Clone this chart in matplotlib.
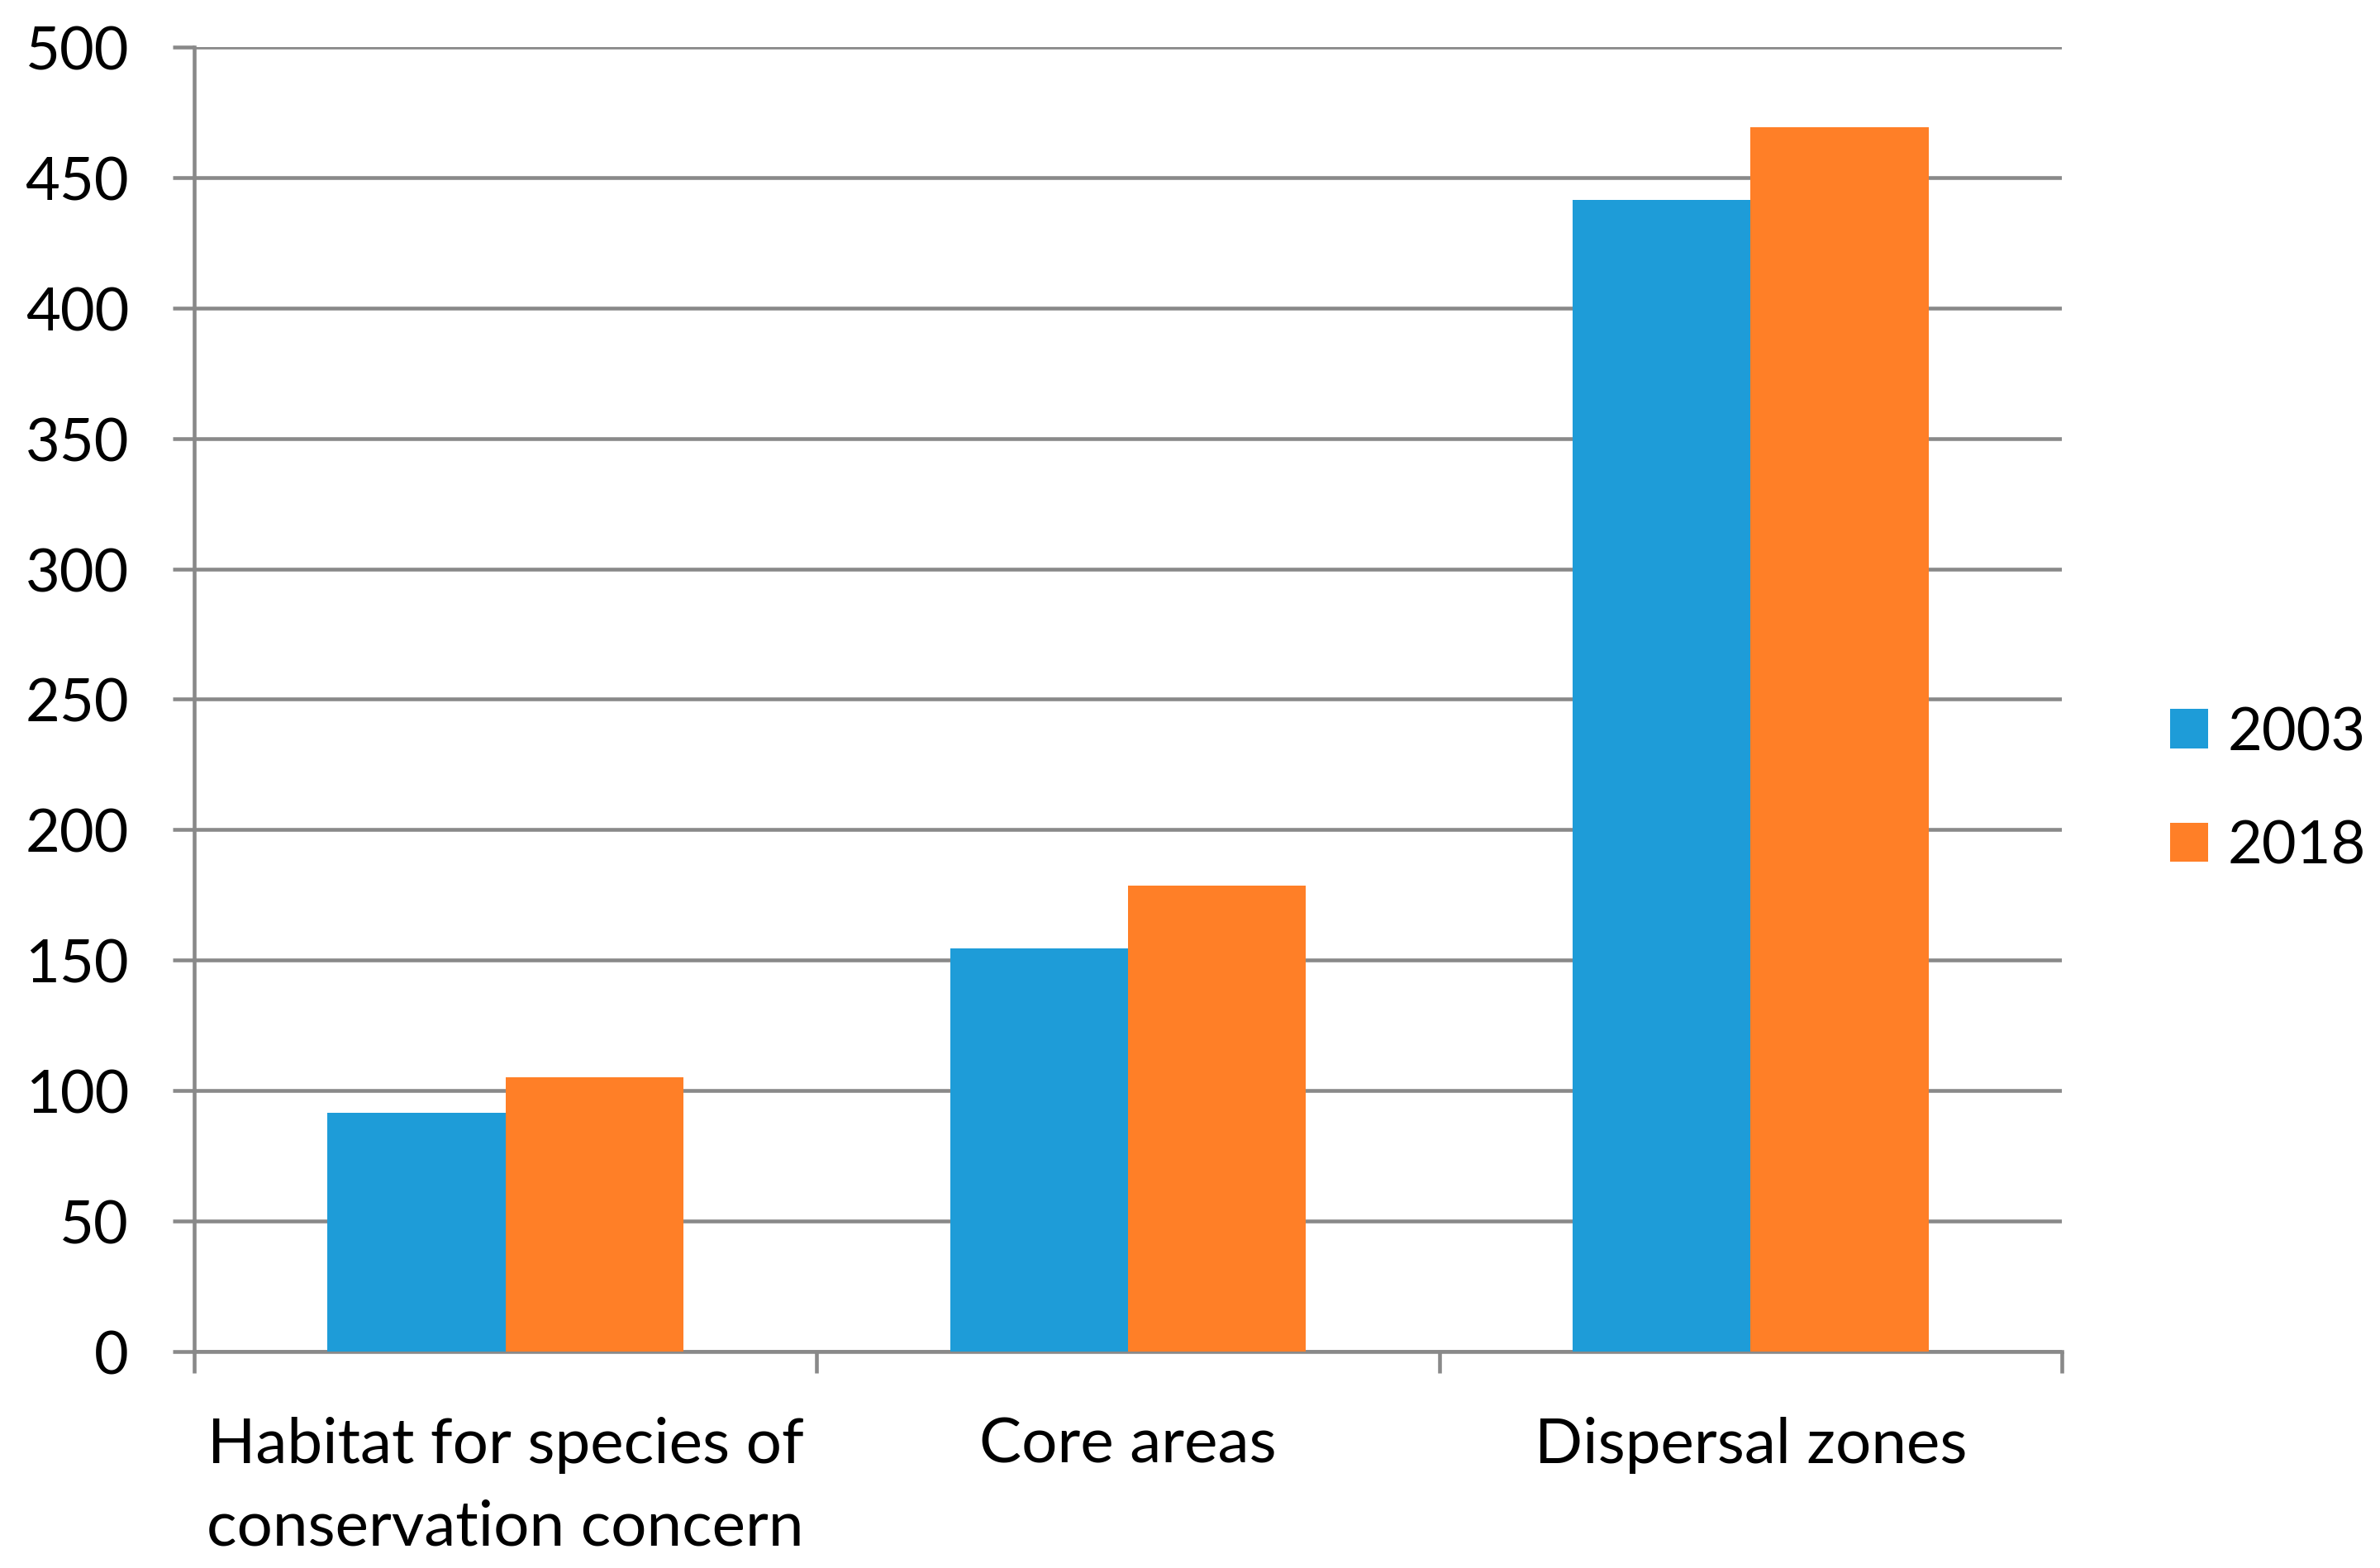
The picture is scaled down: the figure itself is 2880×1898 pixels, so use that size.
import numpy as np
import matplotlib.pyplot as plt

categories = ["Habitat for species of\nconservation concern", "Core areas", "Dispersal zones"]
values_2003 = [91.5, 154.5, 441.5]
values_2018 = [105, 178.5, 469.3]
series_names = ["2003", "2018"]
y_ticks = [0, 50, 100, 150, 200, 250, 300, 350, 400, 450, 500]

blue = "#1E9CD8"
orange = "#FF7F27"
grey = "#898989"

plt.rcParams['font.family'] = ['Lato', 'DejaVu Sans']

fig = plt.figure(figsize=(14.4, 9.495), dpi=200)
ax = fig.add_axes([0.0816, 0.138, 0.7847, 0.8315])

x = np.arange(len(categories))
w = 1 / 3.5
ax.bar(x - w / 2, values_2003, width=w, color=blue, label=series_names[0], zorder=3)
ax.bar(x + w / 2, values_2018, width=w, color=orange, label=series_names[1], zorder=3)

ax.set_xlim(-0.5, len(categories) - 0.5)
ax.set_ylim(0, 500)
ax.set_yticks(y_ticks)
ax.yaxis.grid(True, color=grey, linewidth=1.65, zorder=0)
ax.set_axisbelow(True)

ax.set_xticks(x)
ax.set_xticklabels(categories, fontsize=27.5, linespacing=1.55)
ax.set_xticks(np.arange(-0.5, len(categories)), minor=True)
ax.tick_params(axis='x', which='major', length=0, pad=28)
ax.tick_params(axis='x', which='minor', length=9.4, width=1.65, color=grey)
ax.tick_params(axis='y', length=9.4, width=1.65, color=grey, labelsize=26, pad=19)

for s in ['top', 'right']:
    ax.spines[s].set_visible(False)
for s in ['left', 'bottom']:
    ax.spines[s].set_color(grey)
    ax.spines[s].set_linewidth(1.65)

ax.legend(loc='center left', bbox_to_anchor=(1.058, 0.4307), frameon=False,
          fontsize=26, handlelength=0.64, handleheight=0.64, handletextpad=0.33,
          labelspacing=1.0, borderpad=0, borderaxespad=0)

plt.savefig("out.png", dpi=200)
